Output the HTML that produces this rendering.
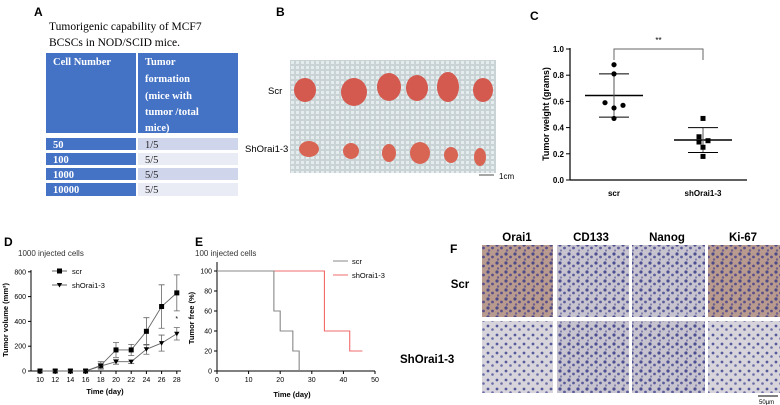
<!DOCTYPE html>
<html><head><meta charset="utf-8"><style>
html,body{margin:0;padding:0;background:#fff;}
svg{display:block;font-family:"Liberation Sans",Arial,sans-serif;}
</style></head><body>
<svg id="fig" width="780" height="405" viewBox="0 0 780 405" xmlns="http://www.w3.org/2000/svg">
<defs>
<pattern id="mesh" width="5" height="5" patternUnits="userSpaceOnUse"><rect width="5" height="5" fill="#c9d3d6"/><rect x="1" y="1" width="3" height="3" fill="#e4ecee"/></pattern>
<pattern id="hisBrown" width="9" height="9" patternUnits="userSpaceOnUse"><rect width="9" height="9" fill="#b99a8e"/><circle cx="2" cy="2" r="1.6" fill="#4d4a88"/><circle cx="6.5" cy="5" r="1.4" fill="#5a4f8a"/><circle cx="3" cy="7.5" r="1.2" fill="#6d5f8f"/></pattern>
<pattern id="hisBlue" width="9" height="9" patternUnits="userSpaceOnUse"><rect width="9" height="9" fill="#c7c3cf"/><circle cx="2" cy="2" r="1.6" fill="#4c4f92"/><circle cx="6.5" cy="5" r="1.4" fill="#5c5e9c"/><circle cx="3" cy="7.5" r="1.1" fill="#8080ad"/></pattern>
<pattern id="hisBlueL" width="9" height="9" patternUnits="userSpaceOnUse"><rect width="9" height="9" fill="#d8d4dc"/><circle cx="2" cy="2" r="1.4" fill="#555a9a"/><circle cx="6.5" cy="5.5" r="1.3" fill="#6b6ea6"/></pattern>
</defs>

<!-- Panel A -->
<g>
<text x="34" y="16" font-size="12" font-weight="bold">A</text>
<g font-family="Liberation Serif,serif" font-size="11.5">
<text x="49" y="30">Tumorigenic capability  of MCF7</text>
<text x="49" y="46">BCSCs in NOD/SCID mice.</text></g>
<g font-family="Liberation Serif,serif" font-size="10.5" font-weight="bold">
<rect x="46" y="53" width="90" height="80" fill="#4472c4"/><rect x="138" y="53" width="100" height="80" fill="#4472c4"/>
<text x="53" y="65" fill="#fff">Cell Number</text>
<text x="145" y="65" fill="#fff">Tumor</text><text x="145" y="82" fill="#fff">formation</text><text x="145" y="99" fill="#fff">(mice with</text><text x="145" y="115" fill="#fff">tumor /total</text><text x="145" y="131" fill="#fff">mice)</text>
<rect x="46" y="138" width="90" height="12" fill="#4472c4"/><rect x="138" y="138" width="100" height="12" fill="#cfd5ea"/>
<rect x="46" y="153" width="90" height="12" fill="#4472c4"/><rect x="138" y="153" width="100" height="12" fill="#e9ebf5"/>
<rect x="46" y="168" width="90" height="12" fill="#4472c4"/><rect x="138" y="168" width="100" height="12" fill="#cfd5ea"/>
<rect x="46" y="183" width="90" height="13" fill="#4472c4"/><rect x="138" y="183" width="100" height="13" fill="#e9ebf5"/>
<text x="53" y="148" fill="#fff">50</text><text x="53" y="163" fill="#fff">100</text><text x="53" y="178" fill="#fff">1000</text><text x="53" y="193" fill="#fff">10000</text>
<g font-weight="normal" fill="#222"><text x="145" y="148">1/5</text><text x="145" y="163">5/5</text><text x="145" y="178">5/5</text><text x="145" y="193">5/5</text></g>
</g></g>

<!-- Panel B -->
<g>
<text x="276" y="16" font-size="12" font-weight="bold">B</text>
<rect x="290" y="60" width="206" height="113" fill="url(#mesh)"/>
<g fill="#d4594e">
<ellipse cx="305" cy="90" rx="11" ry="12"/><ellipse cx="354" cy="92" rx="13" ry="14"/><ellipse cx="389" cy="87" rx="12" ry="14"/><ellipse cx="417" cy="88" rx="11" ry="13"/><ellipse cx="448" cy="87" rx="11" ry="15"/><ellipse cx="483" cy="90" rx="10" ry="12"/></g>
<g fill="#d86554">
<ellipse cx="309" cy="149" rx="10" ry="8"/><ellipse cx="351" cy="151" rx="8" ry="8"/><ellipse cx="389" cy="153" rx="7" ry="9"/><ellipse cx="420" cy="153" rx="10" ry="11"/><ellipse cx="451" cy="155" rx="7" ry="8"/><ellipse cx="480" cy="157" rx="6" ry="9"/></g>
<text x="268" y="94" font-size="9.5">Scr</text>
<text x="245" y="152" font-size="9.5">ShOrai1-3</text>
<line x1="479" y1="175" x2="494" y2="175" stroke="#888" stroke-width="1.5"/>
<text x="499" y="179" font-size="8">1cm</text>
</g>

<!-- Panel C -->
<text x="530" y="20" font-size="12" font-weight="bold">C</text>
<g id="panelC"></g>

<!-- Panel D -->
<text x="4" y="246" font-size="12" font-weight="bold">D</text>
<text x="18" y="256" font-size="8" fill="#333">1000 injected cells</text>
<g id="panelD"></g>

<!-- Panel E -->
<text x="195" y="246" font-size="12" font-weight="bold">E</text>
<text x="195" y="256" font-size="8" fill="#333">100 injected cells</text>
<g id="panelE"></g>

<!-- Panel F -->
<g>
<text x="450" y="253" font-size="12" font-weight="bold">F</text>
<g font-size="11.5" font-weight="bold" text-anchor="middle">
<text x="517" y="241">Orai1</text><text x="591" y="241">CD133</text><text x="667" y="241">Nanog</text><text x="743" y="241">Ki-67</text></g>
<text x="460" y="288" font-size="11.5" font-weight="bold" text-anchor="middle">Scr</text>
<text x="400" y="363" font-size="11.5" font-weight="bold">ShOrai1-3</text>
<g>
<rect x="482" y="245" width="71" height="72" fill="url(#hisBrown)"/>
<rect x="557" y="245" width="72" height="72" fill="url(#hisBlue)"/>
<rect x="632" y="245" width="73" height="72" fill="url(#hisBlue)"/>
<rect x="708" y="245" width="72" height="72" fill="url(#hisBrown)"/>
<rect x="482" y="321" width="71" height="72" fill="url(#hisBlueL)"/>
<rect x="557" y="321" width="72" height="72" fill="url(#hisBlue)"/>
<rect x="632" y="321" width="73" height="72" fill="url(#hisBlue)"/>
<rect x="708" y="321" width="72" height="72" fill="url(#hisBlueL)"/>
</g>
<line x1="758" y1="396" x2="778" y2="396" stroke="#000" stroke-width="1"/>
<text x="759" y="404" font-size="6">50µm</text>
</g>
</svg>
<script>
// ---- Panel C data ----
const cCategories = ["scr", "shOrai1-3"];
const cScrPoints = [0.88, 0.81, 0.59, 0.55, 0.57, 0.47];
const cShPoints = [0.47, 0.33, 0.30, 0.29, 0.25, 0.18];
const cMeans = [0.645, 0.305];
const cSD = [0.165, 0.095];
const cTicks = [0.0, 0.2, 0.4, 0.6, 0.8, 1.0];
// ---- Panel D data ----
const dDays = [10, 12, 14, 16, 18, 20, 22, 24, 26, 28];
const dScr = [0, 0, 0, 0, 45, 170, 170, 320, 520, 630];
const dScrErr = [0, 0, 0, 0, 30, 60, 45, 110, 175, 145];
const dSh = [0, 0, 0, 0, 40, 75, 75, 175, 225, 300];
const dShErr = [0, 0, 0, 0, 20, 20, 15, 40, 65, 50];
const dYTicks = [0, 200, 400, 600, 800];
// ---- Panel E data ----
const eScrTimes = [0, 18, 20, 24, 26];
const eScrVals = [100, 60, 40, 20, 0];
const eShTimes = [0, 34, 42, 46];
const eShVals = [100, 40, 20, 20];
const eXTicks = [0, 10, 20, 30, 40, 50];
const eYTicks = [0, 20, 40, 60, 80, 100];

const NS = "http://www.w3.org/2000/svg";
function mk(parent, tag, attrs, text) {
  const e = document.createElementNS(NS, tag);
  for (const k in attrs) e.setAttribute(k, attrs[k]);
  if (text !== undefined) e.textContent = text;
  parent.appendChild(e);
  return e;
}

// Panel C
(function () {
  const g = document.getElementById("panelC");
  const y = v => 180 - v * 131;
  const x = i => 614 + i * 89;
  let el;
  el = mk(g, "line", {x1: 570, y1: 48, x2: 570, y2: 180, stroke: "#000", "stroke-width": 1.2});
  
  
  el = mk(g, "line", {x1: 570, y1: 180, x2: 747, y2: 180, stroke: "#000", "stroke-width": 1.2});
  
  
  cTicks.forEach(t => {
    mk(g, "line", {x1: 566, y1: y(t), x2: 570, y2: y(t), stroke: "#000"});
    el = mk(g, "text", {x: 564, y: y(t) + 3, "font-size": 8, "font-weight": "bold", "text-anchor": "end"}, t.toFixed(1));
    
    
  });
  cCategories.forEach((c, i) => {
    el = mk(g, "text", {x: x(i), y: 196, "font-size": 8, "font-weight": "bold", "text-anchor": "middle"}, c);
    
    
    mk(g, "line", {x1: x(i) - 29, y1: y(cMeans[i]), x2: x(i) + 29, y2: y(cMeans[i]), stroke: "#000", "stroke-width": 1.5});
    mk(g, "line", {x1: x(i), y1: y(cMeans[i] + cSD[i]), x2: x(i), y2: y(cMeans[i] - cSD[i]), stroke: "#555"});
    mk(g, "line", {x1: x(i) - 15, y1: y(cMeans[i] + cSD[i]), x2: x(i) + 15, y2: y(cMeans[i] + cSD[i]), stroke: "#000"});
    mk(g, "line", {x1: x(i) - 15, y1: y(cMeans[i] - cSD[i]), x2: x(i) + 15, y2: y(cMeans[i] - cSD[i]), stroke: "#000"});
  });
  const offs = [0, 0, -9, 0, 9, 0];
  cScrPoints.forEach((v, k) => {
    el = mk(g, "circle", {cx: x(0) + offs[k], cy: y(v), r: 2.6, fill: "#000"});
    
    
  });
  const offs2 = [0, -4, 5, -4, 0, 0];
  cShPoints.forEach((v, k) => {
    el = mk(g, "rect", {x: x(1) + offs2[k] - 2.5, y: y(v) - 2.5, width: 5, height: 5, fill: "#000"});
    
    
  });
  el = mk(g, "path", {d: `M${x(0)},60 V49 H${x(1)} V60`, fill: "none", stroke: "#666"});
  
  
  el = mk(g, "text", {x: (x(0) + x(1)) / 2, y: 43, "font-size": 8, "text-anchor": "middle"}, "**");
  
  
  el = mk(g, "text", {x: 0, y: 0, "font-size": 9, "font-weight": "bold", "text-anchor": "middle", transform: "translate(549,114) rotate(-90)"}, "Tumor weight (grams)");
  
  
})();

// Panel D
(function () {
  const g = document.getElementById("panelD");
  const x = t => 40 + (t - 10) * 7.6;
  const y = v => 371 - v * 0.124;
  let el;
  el = mk(g, "line", {x1: 31, y1: 270, x2: 31, y2: 371, stroke: "#000"});
  
  
  el = mk(g, "line", {x1: 31, y1: 371, x2: 181, y2: 371, stroke: "#000"});
  
  
  dYTicks.forEach(t => {
    mk(g, "line", {x1: 28, y1: y(t), x2: 31, y2: y(t), stroke: "#000"});
    el = mk(g, "text", {x: 26, y: y(t) + 2.5, "font-size": 7, "text-anchor": "end"}, t);
    
    
  });
  dDays.forEach(t => {
    mk(g, "line", {x1: x(t), y1: 371, x2: x(t), y2: 374, stroke: "#000"});
    el = mk(g, "text", {x: x(t), y: 382, "font-size": 7, "text-anchor": "middle"}, t);
    
    
  });
  function series(vals, errs, name, marker) {
    const pts = vals.map((v, i) => x(dDays[i]) + "," + y(v)).join(" ");
    el = mk(g, "polyline", {points: pts, fill: "none", stroke: "#666", "stroke-width": 0.9});
    
    
    vals.forEach((v, i) => {
      const cx = x(dDays[i]);
      if (errs[i] > 0) {
        mk(g, "path", {d: `M${cx},${y(v + errs[i])} V${y(v - errs[i])} M${cx - 3},${y(v + errs[i])} h6 M${cx - 3},${y(v - errs[i])} h6`, stroke: "#666", "stroke-width": 0.8, fill: "none"});
      }
      if (marker === "sq") el = mk(g, "rect", {x: cx - 2.5, y: y(v) - 2.5, width: 5, height: 5, fill: "#000"});
      else el = mk(g, "path", {d: `M${cx - 2.7},${y(v) - 2} h5.4 l-2.7,4.5 z`, fill: "#000"});
      
      
    });
  }
  series(dScr, dScrErr, "d-scr", "sq");
  series(dSh, dShErr, "d-shorai", "tri");
  el = mk(g, "text", {x: x(28), y: 321, "font-size": 7, "text-anchor": "middle"}, "*");
  
  
  mk(g, "line", {x1: 52, y1: 271, x2: 67, y2: 271, stroke: "#666"});
  mk(g, "rect", {x: 57, y: 268.5, width: 5, height: 5, fill: "#000"});
  el = mk(g, "text", {x: 72, y: 274, "font-size": 7.5}, "scr");
  
  
  mk(g, "line", {x1: 52, y1: 285, x2: 67, y2: 285, stroke: "#666"});
  mk(g, "path", {d: "M56.8,283 h5.4 l-2.7,4.5 z", fill: "#000"});
  el = mk(g, "text", {x: 72, y: 288, "font-size": 7.5}, "shOrai1-3");
  
  
  el = mk(g, "text", {x: 105, y: 394, "font-size": 7.5, "font-weight": "bold", "text-anchor": "middle"}, "Time (day)");
  
  
  el = mk(g, "text", {x: 0, y: 0, "font-size": 7.5, "font-weight": "bold", "text-anchor": "middle", transform: "translate(8,320) rotate(-90)"}, "Tumor volume (mm³)");
  
  
})();

// Panel E
(function () {
  const g = document.getElementById("panelE");
  const x = t => 217 + t * 3.16;
  const y = v => 371 - v * 1.0;
  let el;
  el = mk(g, "line", {x1: 217, y1: 262, x2: 217, y2: 371, stroke: "#000"});
  
  
  el = mk(g, "line", {x1: 217, y1: 371, x2: 375, y2: 371, stroke: "#000"});
  
  
  eYTicks.forEach(t => {
    mk(g, "line", {x1: 214, y1: y(t), x2: 217, y2: y(t), stroke: "#000"});
    el = mk(g, "text", {x: 212, y: y(t) + 2.5, "font-size": 7, "text-anchor": "end"}, t);
    
    
  });
  eXTicks.forEach(t => {
    mk(g, "line", {x1: x(t), y1: 371, x2: x(t), y2: 374, stroke: "#000"});
    el = mk(g, "text", {x: x(t), y: 382, "font-size": 7, "text-anchor": "middle"}, t);
    
    
  });
  function steps(ts, vs, endT) {
    let d = `M${x(ts[0])},${y(vs[0])}`;
    for (let i = 1; i < ts.length; i++) d += ` H${x(ts[i])} V${y(vs[i])}`;
    if (endT !== undefined) d += ` H${x(endT)}`;
    return d;
  }
  el = mk(g, "path", {d: steps(eShTimes.slice(0, -1), eShVals.slice(0, -1), eShTimes[eShTimes.length - 1]), fill: "none", stroke: "#f26b6b", "stroke-width": 1.1});
  
  
  el = mk(g, "path", {d: steps(eScrTimes, eScrVals), fill: "none", stroke: "#888", "stroke-width": 1.1});
  
  
  mk(g, "line", {x1: 333, y1: 261, x2: 348, y2: 261, stroke: "#888"});
  el = mk(g, "text", {x: 352, y: 264, "font-size": 7.5}, "scr");
  
  
  mk(g, "line", {x1: 333, y1: 275, x2: 348, y2: 275, stroke: "#f26b6b"});
  el = mk(g, "text", {x: 352, y: 278, "font-size": 7.5}, "shOrai1-3");
  
  
  el = mk(g, "text", {x: 292, y: 397, "font-size": 7.5, "font-weight": "bold", "text-anchor": "middle"}, "Time (day)");
  
  
  el = mk(g, "text", {x: 0, y: 0, "font-size": 7.5, "font-weight": "bold", "text-anchor": "middle", transform: "translate(194,318) rotate(-90)"}, "Tumor free (%)");
  
  
})();
</script>
</body></html>
